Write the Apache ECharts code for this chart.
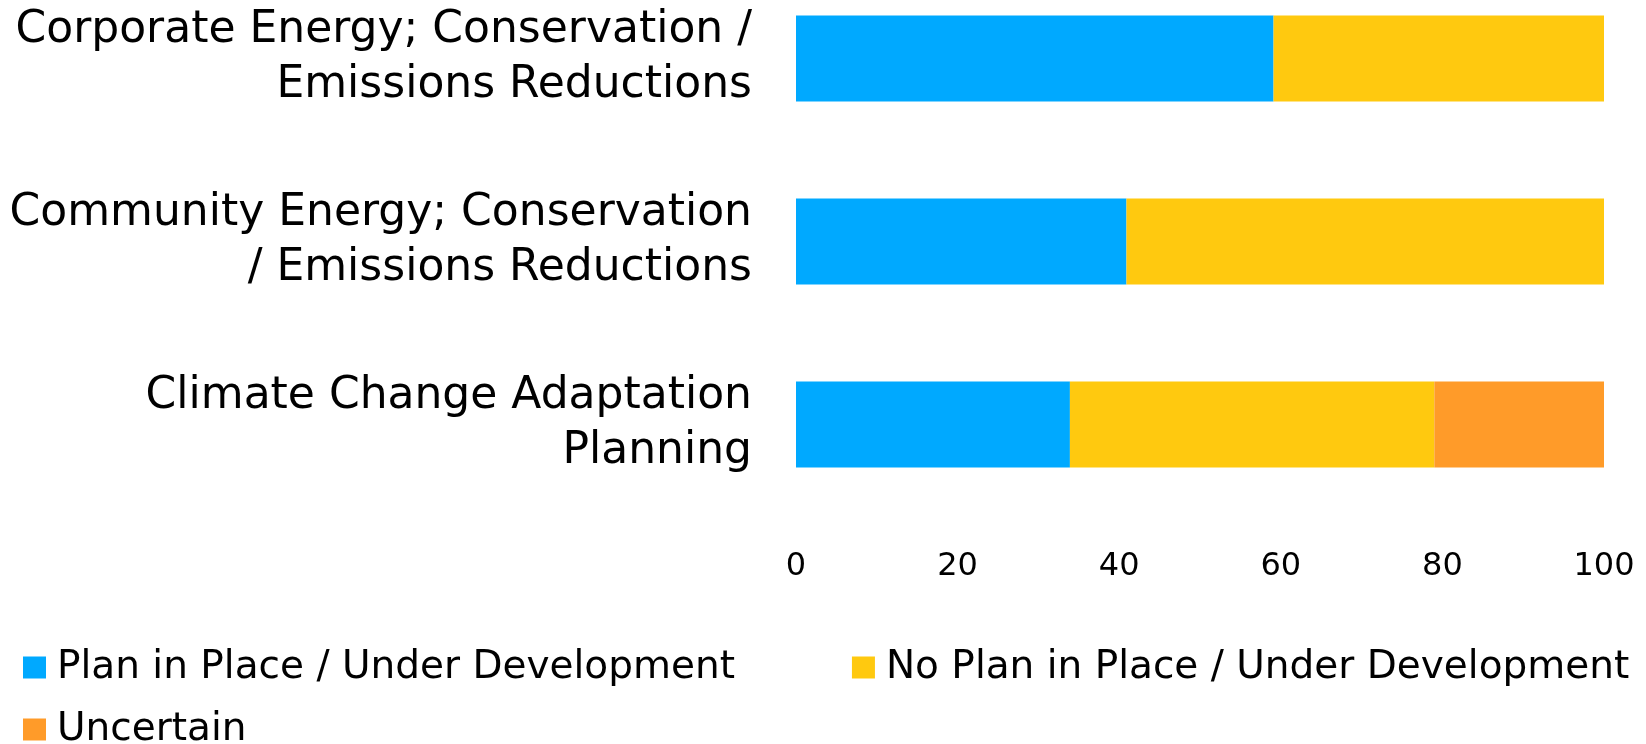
<!DOCTYPE html>
<html>
<head>
<meta charset="utf-8">
<script src="https://cdn.jsdelivr.net/npm/echarts@6/dist/echarts.min.js"></script>
<style>html,body{margin:0;padding:0;background:#fff;}#chart{width:1646px;height:744px;}</style>
</head>
<body>
<div id="chart"></div>
<script>
const categories = [
  "Corporate Energy; Conservation /\nEmissions Reductions",
  "Community Energy; Conservation\n/ Emissions Reductions",
  "Climate Change Adaptation\nPlanning"
];
const seriesNames = ["Plan in Place / Under Development", "No Plan in Place / Under Development", "Uncertain"];
const planInPlace = [59.1, 40.9, 33.9];
const noPlan = [40.9, 59.1, 45.1];
const uncertain = [0, 0, 21.0];
const xTicks = [0, 20, 40, 60, 80, 100];
const colors = ["#00A9FF", "#FFC90F", "#FF9B29"];

const FONT = "DejaVu Sans";
const chart = echarts.init(document.getElementById('chart'));
const values = [planInPlace, noPlan, uncertain];
chart.setOption({
  animation: false,
  color: colors,
  textStyle: { fontFamily: FONT },
  grid: { left: 796, right: 42, top: -33, height: 549, containLabel: false, outerBoundsMode: 'none' },
  xAxis: {
    type: 'value', min: xTicks[0], max: xTicks[xTicks.length - 1], interval: 20,
    axisLine: { show: false }, axisTick: { show: false }, splitLine: { show: false },
    axisLabel: { margin: 35, fontSize: 32, color: '#000', fontFamily: FONT }
  },
  yAxis: {
    type: 'category', data: categories, inverse: true,
    axisLine: { show: false }, axisTick: { show: false },
    axisLabel: { margin: 44, fontSize: 44, lineHeight: 55, color: '#000', align: 'right', fontFamily: FONT, padding: [6, 0, 0, 0] }
  },
  legend: [
    {
      data: seriesNames.slice(0, 2), left: 18, top: 643, icon: 'rect', itemWidth: 23, itemHeight: 22, itemGap: 117,
      textStyle: { fontSize: 39, color: '#000', fontFamily: FONT, padding: [0, 0, 0, 6] }
    },
    {
      data: seriesNames.slice(2), left: 18, top: 705, icon: 'rect', itemWidth: 23, itemHeight: 22,
      textStyle: { fontSize: 39, color: '#000', fontFamily: FONT, padding: [0, 0, 0, 6] }
    }
  ],
  series: seriesNames.map((name, i) => ({
    name, type: 'bar', stack: 'total', barWidth: 86,
    data: values[i],
    itemStyle: { color: colors[i] }
  }))
});
</script>
</body>
</html>
